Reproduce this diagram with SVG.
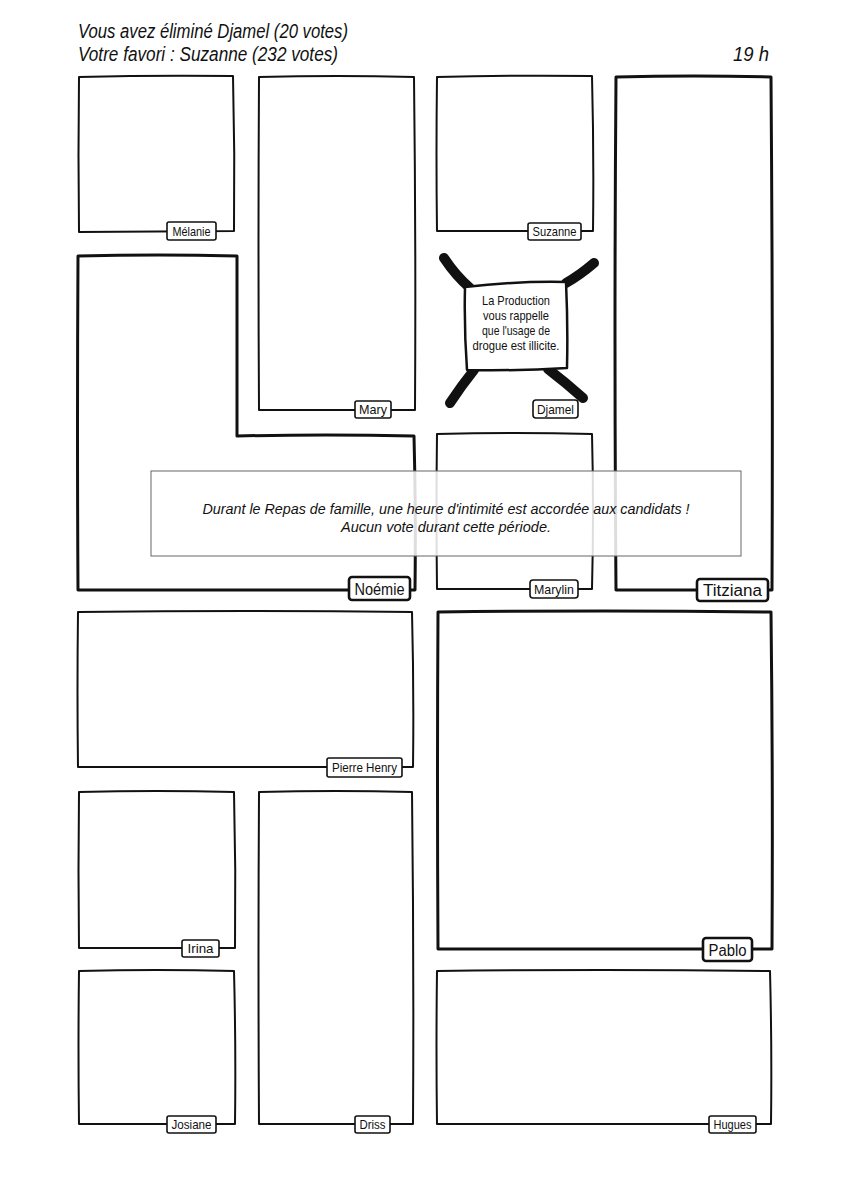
<svg xmlns="http://www.w3.org/2000/svg" width="842" height="1191" viewBox="0 0 842 1191">
<style>
.bg{fill:#ffffff}
.pn{fill:none;stroke:#111;stroke-width:2;stroke-linejoin:round;stroke-linecap:round}
.pk{fill:none;stroke:#111;stroke-width:3;stroke-linejoin:round;stroke-linecap:round}
.tg{fill:#fff;stroke:#111;stroke-width:1.6}
.tk{fill:#fff;stroke:#111;stroke-width:2.6}
.t{font-family:"Liberation Sans",Arial,sans-serif;fill:#111}
.hd{font-size:20px;font-style:italic}
.lb{font-size:13px;text-anchor:middle}
.lk{font-size:16px;text-anchor:middle}
.ov{font-size:15px;font-style:italic;text-anchor:middle}
.dj{font-size:13px;text-anchor:middle}
.arm{fill:none;stroke:#111;stroke-width:10;stroke-linecap:round}
</style>
<rect class="bg" x="0" y="0" width="842" height="1191"/>
<g id="header">
<text class="t hd" x="78" y="38" textLength="270" lengthAdjust="spacingAndGlyphs">Vous avez éliminé Djamel (20 votes)</text>
<text class="t hd" x="78" y="61" textLength="260" lengthAdjust="spacingAndGlyphs">Votre favori : Suzanne (232 votes)</text>
<text class="t hd" x="733" y="61" textLength="36" lengthAdjust="spacingAndGlyphs">19 h</text>
</g>
<g id="melanie">
<path class="pn" d="M79,77 Q156,75 233,76 Q235,154 234,231 L79,232 Q78,155 79,77 Z"/>
<rect class="tg" x="167" y="222" width="49" height="18" rx="2"/>
<text class="t lb" x="191.5" y="235.5" textLength="38" lengthAdjust="spacingAndGlyphs">Mélanie</text>
</g>
<g id="mary">
<path class="pn" d="M259,77 Q337,75 414,77 Q416,244 415,410 L259,410 Q258,244 259,77 Z"/>
<rect class="tg" x="355" y="401" width="36" height="17" rx="2"/>
<text class="t lb" x="373" y="414" textLength="28" lengthAdjust="spacingAndGlyphs">Mary</text>
</g>
<g id="suzanne">
<path class="pn" d="M437,77 Q515,75 592,76 Q594,154 593,231 L437,231 Q436,154 437,77 Z"/>
<rect class="tg" x="528" y="223" width="53" height="17" rx="2"/>
<text class="t lb" x="554.5" y="236" textLength="44" lengthAdjust="spacingAndGlyphs">Suzanne</text>
</g>
<g id="titziana">
<path class="pk" d="M616,77 Q694,75 771,77 Q773,334 772,590 L616,590 Q614,334 616,77 Z"/>
<rect class="tk" x="697" y="579" width="71" height="22" rx="3"/>
<text class="t lk" x="732.5" y="596" textLength="59" lengthAdjust="spacingAndGlyphs">Titziana</text>
</g>
<g id="noemie">
<path class="pk" d="M78,256 Q158,254 237,256 L237,436 Q326,434 414,436 Q416,513 415,590 L78,590 Q77,423 78,256 Z"/>
<rect class="tk" x="349" y="577" width="61" height="23" rx="3"/>
<text class="t lk" x="379.5" y="595" textLength="50" lengthAdjust="spacingAndGlyphs">Noémie</text>
</g>
<g id="djamel">
<path class="arm" d="M444,258 Q456,276 470,288"/>
<path class="arm" d="M594,263 Q580,275 566,283"/>
<path class="arm" d="M450,403 Q462,385 474,370"/>
<path class="arm" d="M583,398 Q565,382 548,369"/>
<path d="M465,287 Q515,281 566,282 Q568,325 567,368 Q516,371 467,370 Q464,328 465,287 Z" fill="#fff" stroke="#111" stroke-width="2.5" stroke-linejoin="round"/>
<text class="t dj" x="516" y="305" textLength="68" lengthAdjust="spacingAndGlyphs">La Production</text>
<text class="t dj" x="516" y="320" textLength="66" lengthAdjust="spacingAndGlyphs">vous rappelle</text>
<text class="t dj" x="516" y="335" textLength="68" lengthAdjust="spacingAndGlyphs">que l'usage de</text>
<text class="t dj" x="516" y="350" textLength="87" lengthAdjust="spacingAndGlyphs">drogue est illicite.</text>
<rect class="tg" x="533" y="400" width="45" height="18" rx="3"/>
<text class="t lb" x="555.5" y="413.5" textLength="37" lengthAdjust="spacingAndGlyphs">Djamel</text>
</g>
<g id="marylin">
<path class="pn" d="M437,434 Q515,432 592,434 Q594,512 592,589 L437,589 Q436,512 437,434 Z"/>
<rect class="tg" x="530" y="580" width="48" height="18" rx="3"/>
<text class="t lb" x="554" y="593.5" textLength="40" lengthAdjust="spacingAndGlyphs">Marylin</text>
</g>
<g id="overlay">
<rect x="151" y="471" width="590" height="85" fill="#fff" fill-opacity="0.86" stroke="#666" stroke-width="1"/>
<text class="t ov" x="446" y="514" textLength="487" lengthAdjust="spacingAndGlyphs">Durant le Repas de famille, une heure d'intimité est accordée aux candidats !</text>
<text class="t ov" x="446" y="532" textLength="210" lengthAdjust="spacingAndGlyphs">Aucun vote durant cette période.</text>
</g>
<g id="pierre-henry">
<path class="pn" d="M78,612 Q246,610 412,612 Q414,690 413,767 L78,767 Q77,690 78,612 Z"/>
<rect class="tg" x="327" y="758" width="75" height="19" rx="2"/>
<text class="t lb" x="364.5" y="772" textLength="65" lengthAdjust="spacingAndGlyphs">Pierre Henry</text>
</g>
<g id="pablo">
<path class="pk" d="M438,612 Q605,610 771,612 Q773,781 772,949 L438,949 Q437,781 438,612 Z"/>
<rect class="tk" x="703" y="938" width="49" height="23" rx="3"/>
<text class="t lk" x="727.5" y="955.5" textLength="38" lengthAdjust="spacingAndGlyphs">Pablo</text>
</g>
<g id="irina">
<path class="pn" d="M79,792 Q157,790 234,792 Q236,870 235,948 L79,948 Q78,870 79,792 Z"/>
<rect class="tg" x="182" y="940" width="37" height="17" rx="2"/>
<text class="t lb" x="200.5" y="953" textLength="26" lengthAdjust="spacingAndGlyphs">Irina</text>
</g>
<g id="driss">
<path class="pn" d="M259,792 Q336,790 412,792 Q414,958 413,1124 L259,1124 Q258,958 259,792 Z"/>
<rect class="tg" x="355" y="1116" width="35" height="17" rx="2"/>
<text class="t lb" x="372.5" y="1129" textLength="26" lengthAdjust="spacingAndGlyphs">Driss</text>
</g>
<g id="josiane">
<path class="pn" d="M79,971 Q157,969 234,971 Q236,1048 235,1124 L79,1124 Q78,1048 79,971 Z"/>
<rect class="tg" x="167" y="1116" width="49" height="17" rx="2"/>
<text class="t lb" x="191.5" y="1129" textLength="40" lengthAdjust="spacingAndGlyphs">Josiane</text>
</g>
<g id="hugues">
<path class="pn" d="M437,971 Q604,969 770,971 Q772,1048 771,1124 L437,1124 Q436,1048 437,971 Z"/>
<rect class="tg" x="709" y="1116" width="47" height="17" rx="2"/>
<text class="t lb" x="732.5" y="1129" textLength="38" lengthAdjust="spacingAndGlyphs">Hugues</text>
</g>
<g id="connectors"></g>
</svg>
